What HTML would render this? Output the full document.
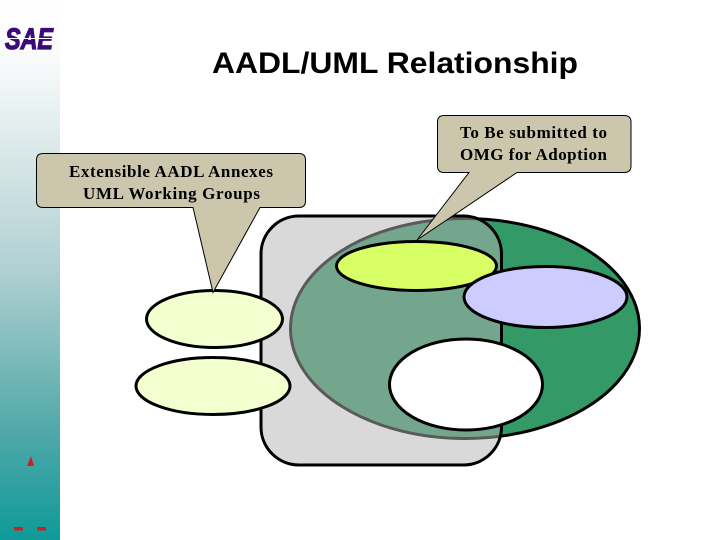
<!DOCTYPE html>
<html>
<head>
<meta charset="utf-8">
<title>AADL/UML Relationship</title>
<style>
html,body{margin:0;padding:0;background:#fff;width:720px;height:540px;overflow:hidden}
svg{display:block}
</style>
</head>
<body>
<svg width="720" height="540" viewBox="0 0 720 540" xmlns="http://www.w3.org/2000/svg">
<defs>
<linearGradient id="side" x1="0" y1="0" x2="0" y2="1">
<stop offset="0" stop-color="#ffffff"/>
<stop offset="0.12" stop-color="#f8fafa"/>
<stop offset="0.5" stop-color="#b0d0d2"/>
<stop offset="0.8" stop-color="#50a8a8"/>
<stop offset="1" stop-color="#0f9a9a"/>
</linearGradient>
</defs>
<rect width="720" height="540" fill="#fff"/>
<rect x="0" y="0" width="60" height="540" fill="url(#side)"/>

<text x="5" y="49" font-family="'Liberation Sans',sans-serif" font-weight="bold" font-style="italic" font-size="30" fill="#3a0a78" textLength="48" lengthAdjust="spacingAndGlyphs" stroke="#3a0a78" stroke-width="1.200">SAE</text>
<rect x="8" y="38" width="46" height="1" fill="#fff"/>

<path d="M31 456 L34 466 L27 466 L29.500 460 Z" fill="#cc2027"/>
<rect x="14" y="527" width="9" height="3.500" fill="#cc2027"/>
<rect x="37" y="527" width="9" height="3.500" fill="#cc2027"/>

<text x="212" y="73" font-family="'Liberation Sans',sans-serif" font-weight="bold" font-size="30" fill="#000" textLength="366" lengthAdjust="spacingAndGlyphs">AADL/UML Relationship</text>

<ellipse cx="465" cy="328.500" rx="174.500" ry="110" fill="#339966" stroke="#000" stroke-width="3"/>
<rect x="261" y="216" width="240.500" height="249" rx="38" ry="38" fill="#b3b3b3" fill-opacity="0.5" stroke="#000" stroke-width="3"/>

<ellipse cx="416.500" cy="266" rx="80" ry="24.500" fill="#d9ff66" stroke="#000" stroke-width="3"/>
<ellipse cx="545.500" cy="297" rx="81.500" ry="30.500" fill="#ccccff" stroke="#000" stroke-width="3"/>
<ellipse cx="466" cy="384.500" rx="76.500" ry="45.500" fill="#ffffff" stroke="#000" stroke-width="3"/>
<ellipse cx="214.500" cy="319" rx="68" ry="28.500" fill="#f4ffcf" stroke="#000" stroke-width="3"/>
<ellipse cx="213" cy="386" rx="77" ry="28.500" fill="#f4ffcf" stroke="#000" stroke-width="3"/>

<path d="M43 153.500 H299 Q305.500 153.500 305.500 160 V201 Q305.500 207.500 299 207.500 H260 L213 292.500 L193 207.500 H43 Q36.500 207.500 36.500 201 V160 Q36.500 153.500 43 153.500 Z" fill="#ccc6ad" stroke="#000" stroke-width="1"/>
<path d="M444 115.500 H624 Q631 115.500 631 122 V166 Q631 172.500 624 172.500 H517 L417 240 L469 172.500 H444 Q437.500 172.500 437.500 166 V122 Q437.500 115.500 444 115.500 Z" fill="#ccc6ad" stroke="#000" stroke-width="1"/>

<g font-family="'Liberation Serif',serif" font-weight="bold" font-size="17" fill="#000">
<text x="69" y="177" textLength="204">Extensible AADL Annexes</text>
<text x="83" y="199" textLength="177">UML Working Groups</text>
<text x="460" y="138" textLength="147">To Be submitted to</text>
<text x="460" y="160" textLength="147">OMG for Adoption</text>
</g>
</svg>
</body>
</html>
